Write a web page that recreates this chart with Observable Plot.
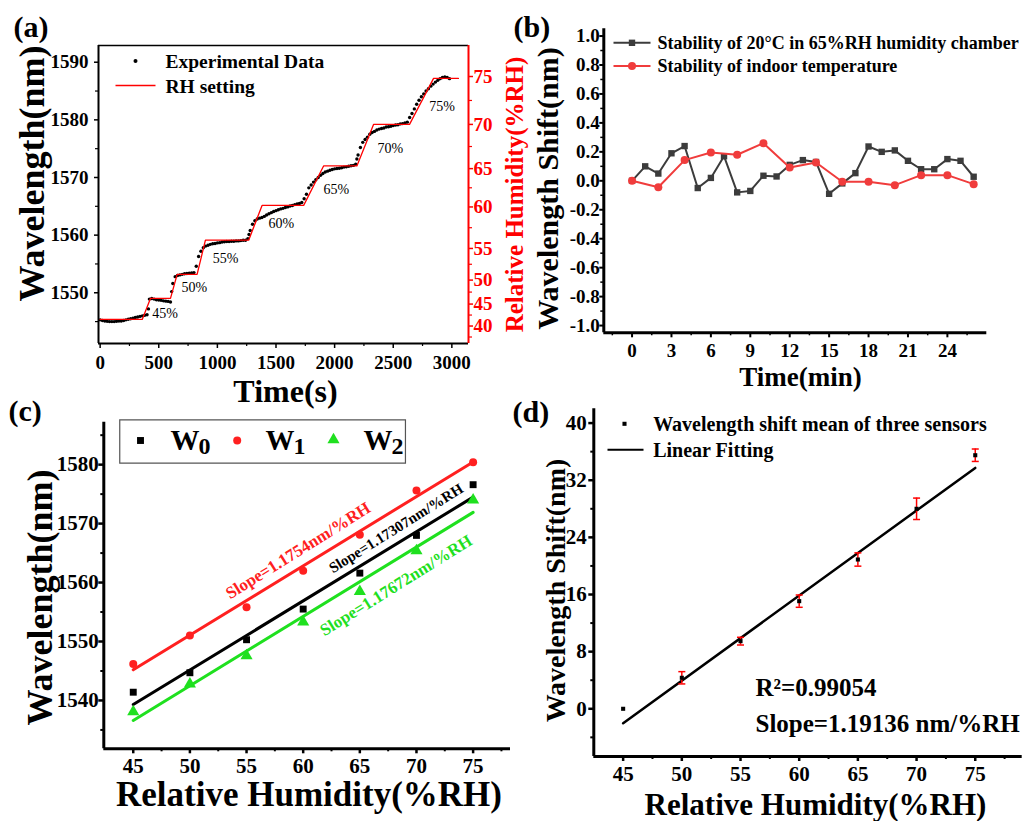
<!DOCTYPE html>
<html><head><meta charset="utf-8">
<script src="https://cdn.jsdelivr.net/npm/d3@7"></script>
<script src="https://cdn.jsdelivr.net/npm/@observablehq/plot@0.6"></script>
<style>
body{margin:0;background:#fff;}
#fig{position:relative;width:1034px;height:821px;overflow:hidden;background:#fff;}
</style></head><body><div id="fig"></div>
<script>
// ---------------- Panel (a) data ----------------
const timeS = [0,20,40,60,80,100,120,140,160,180,200,220,240,260,280,300,320,340,360,380,400,412,420,440,460,480,500,520,540,560,580,600,610,620,640,660,680,700,720,740,760,780,800,820,840,860,880,900,920,940,960,980,1000,1020,1040,1060,1080,1100,1120,1140,1160,1180,1200,1220,1240,1260,1270,1280,1300,1320,1340,1360,1380,1400,1420,1440,1460,1480,1500,1520,1540,1560,1580,1600,1620,1640,1660,1680,1700,1720,1740,1760,1780,1800,1820,1840,1860,1880,1900,1920,1940,1960,1980,2000,2020,2040,2060,2080,2100,2120,2140,2160,2180,2190,2200,2220,2240,2260,2280,2300,2320,2340,2360,2380,2400,2420,2440,2460,2480,2500,2520,2540,2560,2580,2600,2620,2640,2660,2680,2700,2720,2740,2760,2780,2800,2820,2840,2860,2880,2900,2920,2940,2960,2980];
const wavelengthNm = [1545.3,1545.2,1545.1,1545.05,1545.0,1545.0,1545.0,1545.05,1545.1,1545.1,1545.2,1545.3,1545.4,1545.5,1545.6,1545.7,1545.8,1545.9,1546.0,1546.1,1546.2,1547.2,1548.9,1549.0,1548.9,1548.8,1548.75,1548.7,1548.6,1548.55,1548.5,1548.4,1550.2,1551.6,1552.8,1553.0,1553.1,1553.2,1553.3,1553.35,1553.4,1553.45,1553.5,1554.6,1556.3,1557.2,1557.8,1558.1,1558.25,1558.4,1558.5,1558.55,1558.65,1558.7,1558.8,1558.85,1558.9,1558.9,1558.95,1558.95,1559.0,1559.0,1559.05,1559.1,1559.1,1559.4,1560.1,1560.8,1561.9,1562.5,1562.8,1562.95,1563.05,1563.25,1563.5,1563.7,1563.9,1564.1,1564.25,1564.4,1564.55,1564.65,1564.8,1564.9,1565.05,1565.15,1565.3,1565.4,1565.5,1565.65,1566.3,1567.1,1568.2,1568.7,1569.2,1569.6,1570.0,1570.4,1570.7,1570.95,1571.1,1571.25,1571.4,1571.5,1571.55,1571.6,1571.7,1571.8,1571.85,1571.95,1572.05,1572.1,1572.3,1573.2,1573.9,1575.2,1576.1,1576.6,1577.0,1577.5,1577.8,1578.0,1578.25,1578.4,1578.5,1578.6,1578.75,1578.8,1578.9,1579.0,1579.1,1579.15,1579.3,1579.35,1579.45,1579.6,1580.4,1581.1,1581.9,1582.7,1583.4,1584.0,1584.5,1585.0,1585.4,1585.85,1586.2,1586.55,1586.85,1587.15,1587.35,1587.45,1587.35,1587.15];
const rhTime = [0,359,430,600,657,827,898,1267,1381,1736,1906,2190,2332,2639,2844,3056];
const rhSetting = [41.5,41.5,46.2,46.2,50.9,50.9,56.0,56.0,60.2,60.2,65.3,65.3,70.0,70.0,74.8,74.8];
// right-hand RH axis calibration (RH value -> wavelength level on the left axis)
const rhAxisTicks = [40,45,50,55,60,65,70,75];
const rhAxisWl = [1544.23,1548.04,1552.20,1557.69,1564.89,1571.54,1579.21,1587.52];
const rhAxisMinor = [37.5,42.5,47.5,52.5,57.5,62.5,67.5,72.5];
const stepLabels = ["45%","50%","55%","60%","65%","70%","75%"];
const stepLabelT = [444,694,960,1437,1906,2366,2807];
const stepLabelWl = [1546.4,1550.9,1555.95,1562.1,1567.9,1575.0,1582.3];
const aXTicks = [0,500,1000,1500,2000,2500,3000];
const aXMinor = [250,750,1250,1750,2250,2750];
const aYTicks = [1550,1560,1570,1580,1590];
const aYMinor = [1545,1555,1565,1575,1585];

// ---------------- Panel (b) data ----------------
const chamberTime = [0,1,2,3,4,5,6,7,8,9,10,11,12,13,14,15,16,17,18,19,20,21,22,23,24,25,26];
const chamberShift = [0.0,0.10,0.05,0.19,0.24,-0.05,0.02,0.17,-0.08,-0.07,0.035,0.03,0.11,0.143,0.13,-0.09,-0.018,0.053,0.237,0.20,0.21,0.138,0.08,0.08,0.15,0.138,0.028];
const indoorTime = [0,2,4,6,8,10,12,14,16,18,20,22,24,26];
const indoorShift = [0.0,-0.045,0.143,0.195,0.18,0.26,0.092,0.126,-0.007,-0.007,-0.03,0.039,0.039,-0.023];
const bXTicks = [0,3,6,9,12,15,18,21,24];
const bXMinor = [-1.5,1.5,4.5,7.5,10.5,13.5,16.5,19.5,22.5,25.5];
const bYTicks = [-1.0,-0.8,-0.6,-0.4,-0.2,0.0,0.2,0.4,0.6,0.8,1.0];
const bYTickLabels = ["-1.0","-0.8","-0.6","-0.4","-0.2","0.0","0.2","0.4","0.6","0.8","1.0"];
const bYMinor = [-0.9,-0.7,-0.5,-0.3,-0.1,0.1,0.3,0.5,0.7,0.9];

// ---------------- Panel (c) data ----------------
const rhLevels = [45,50,55,60,65,70,75];
const w0 = [1541.4,1544.7,1550.3,1555.5,1561.6,1568.0,1576.6];
const w1 = [1546.2,1551.0,1555.8,1562.0,1568.1,1575.6,1580.4];
const w2 = [1538.1,1542.8,1547.6,1553.3,1558.5,1565.4,1574.0];
const fitSlope = [1.17307,1.1754,1.17672];      // W0, W1, W2
const fitAt45 = [1539.3,1545.2,1536.6];
const slopeText = ["Slope=1.17307nm/%RH","Slope=1.1754nm/%RH","Slope=1.17672nm/%RH"];
const slopeTextX = [68.2,59.55,68.2];
const slopeTextY = [1569.2,1565.4,1559.5];
const cXTicks = [45,50,55,60,65,70,75];
const cXMinor = [47.5,52.5,57.5,62.5,67.5,72.5,77.5];
const cYTicks = [1540,1550,1560,1570,1580];
const cYMinor = [1535,1545,1555,1565,1575,1585];

// ---------------- Panel (d) data ----------------
const dRH = [45,50,55,60,65,70,75];
const meanShift = [0,4.34,9.47,15.07,20.9,28.0,35.5];
const shiftErr = [0,0.86,0.54,0.86,0.93,1.5,0.87];
const dFitSlope = 1.19136, dFitAt45 = -2.02;
const dXTicks = [45,50,55,60,65,70,75];
const dXMinor = [47.5,52.5,57.5,62.5,67.5,72.5,77.5];
const dYTicks = [0,8,16,24,32,40];
const dYMinor = [-4,4,12,20,28,36];

// ---------------- helpers ----------------
const SERIF = "Liberation Serif";
const fig = document.getElementById("fig");
function mount(svg, left, top) {
  svg.style.position = "absolute"; svg.style.left = left + "px"; svg.style.top = top + "px";
  svg.style.background = "transparent"; svg.style.overflow = "visible"; svg.style.maxWidth = "none";
  svg.style.fontFamily = "'Liberation Serif', 'Times New Roman', serif"; svg.style.fontWeight = "bold";
  fig.appendChild(svg);
}
const hline = (w) => ({draw(ctx) { ctx.moveTo(-w / 2, 0); ctx.lineTo(w / 2, 0); }});
const rectSym = (w, h) => ({draw(ctx) { ctx.rect(-w / 2, -h / 2, w, h); }});
function note(text, dx, dy, o = {}) {
  return Plot.text([text], {text: d => d, frameAnchor: "top-left", dx, dy, textAnchor: "middle", lineAnchor: "middle", fontFamily: SERIF, fontWeight: "bold", ...o});
}
function glyph(dx, dy, o) {
  return Plot.dot([0], {frameAnchor: "top-left", dx, dy, r: 1, ...o});
}
const txt = {fontFamily: SERIF, fontWeight: "bold", label: null};

// ---------------- Panel (a) ----------------
const rhToWl = d3.scaleLinear().domain(rhAxisTicks).range(rhAxisWl);
const expData = timeS.map((t, i) => ({t, w: wavelengthNm[i]}));
const rhData = rhTime.map((t, i) => ({t, rh: rhSetting[i]}));
const stepData = stepLabels.map((label, i) => ({label, t: stepLabelT[i], w: stepLabelWl[i]}));
const aXd = [-14, 3142], aYd = [1541.2, 1592.9];
const A = Plot.plot({
  width: 520, height: 400, marginLeft: 98, marginRight: 52, marginTop: 45, marginBottom: 57,
  x: {domain: aXd}, y: {domain: aYd},
  marks: [
    Plot.axisX({ticks: aXTicks, tickSize: 5, tickPadding: 7, strokeWidth: 1.5, fontSize: 19, tickFormat: d => String(d), ...txt}),
    Plot.axisX({ticks: aXMinor, tickSize: 3, strokeWidth: 1.2, fill: "none", label: null}),
    Plot.axisY({ticks: aYTicks, tickSize: 4, tickPadding: 6, strokeWidth: 1.5, fontSize: 19, tickFormat: d => String(d), ...txt}),
    Plot.axisY({ticks: aYMinor, tickSize: 3, strokeWidth: 1.2, fill: "none", label: null}),
    Plot.axisY({anchor: "right", ticks: rhAxisTicks.map(rhToWl), tickSize: 4, tickPadding: 1, stroke: "red", fill: "red", strokeWidth: 1.5, fontSize: 19, tickFormat: d => String(Math.round(rhToWl.invert(d))), ...txt}),
    Plot.axisY({anchor: "right", ticks: rhAxisMinor.map(rhToWl), tickSize: 3, stroke: "red", strokeWidth: 1.2, fill: "none", label: null}),
    Plot.ruleY([aYd[1]], {stroke: "black", strokeWidth: 1.5}),
    Plot.ruleY([aYd[0]], {stroke: "black", strokeWidth: 2}),
    Plot.ruleX([aXd[0]], {stroke: "black", strokeWidth: 2}),
    Plot.ruleX([aXd[1]], {stroke: "red", strokeWidth: 2}),
    Plot.dot(expData, {x: "t", y: "w", r: 1.7, fill: "black"}),
    Plot.line(rhData, {x: "t", y: d => rhToWl(d.rh), stroke: "red", strokeWidth: 1.3}),
    Plot.text(stepData, {x: "t", y: "w", text: "label", textAnchor: "start", fontSize: 14, fontFamily: SERIF, fontWeight: "normal"}),
    glyph(37, 15.5, {r: 2, fill: "black"}),
    note("Experimental Data", 67, 16.5, {textAnchor: "start", fontSize: 19.5}),
    glyph(37, 40, {symbol: hline(40), stroke: "red", strokeWidth: 1.5, fill: "none"}),
    note("RH setting", 67, 41, {textAnchor: "start", fontSize: 19.5}),
    note("Wavelength(nm)", -66.3, 128, {rotate: -90, fontSize: 36}),
    note("Relative Humidity(%RH)", 416, 149, {rotate: -90, fontSize: 25, fill: "red"}),
    note("Time(s)", 187, 346.5, {fontSize: 32}),
    note("(a)", -85, -18, {textAnchor: "start", fontSize: 30})
  ]
});
mount(A, 0, 0);

// ---------------- Panel (b) ----------------
const chamber = chamberTime.map((t, i) => ({t, v: chamberShift[i]}));
const indoor = indoorTime.map((t, i) => ({t, v: indoorShift[i]}));
const bXd = [-2.15, 27], bYd = [-1.05, 1.05];
const bBlack = "#3c3c3c", bRed = "#f03c3c";
const B = Plot.plot({
  width: 534, height: 400, marginLeft: 103.3, marginRight: 47.7, marginTop: 28.3, marginBottom: 67.7,
  x: {domain: bXd}, y: {domain: bYd},
  marks: [
    Plot.axisX({ticks: bXTicks, tickSize: 5, tickPadding: 5.5, strokeWidth: 2, fontSize: 19, tickFormat: d => String(d), ...txt}),
    Plot.axisX({ticks: bXMinor, tickSize: 3, strokeWidth: 1.5, fill: "none", label: null}),
    Plot.axisY({ticks: bYTicks, tickSize: 4, tickPadding: 0, strokeWidth: 2, fontSize: 19, tickFormat: d => bYTickLabels[bYTicks.indexOf(d)], ...txt}),
    Plot.axisY({ticks: bYMinor, tickSize: 3, strokeWidth: 1.5, fill: "none", label: null}),
    Plot.ruleX([bXd[0]], {stroke: "black", strokeWidth: 3}),
    Plot.ruleY([bYd[0]], {stroke: "black", strokeWidth: 3}),
    Plot.line(chamber, {x: "t", y: "v", stroke: bBlack, strokeWidth: 2}),
    Plot.dot(chamber, {x: "t", y: "v", symbol: "square", r: 3.6, fill: bBlack}),
    Plot.line(indoor, {x: "t", y: "v", stroke: bRed, strokeWidth: 2}),
    Plot.dot(indoor, {x: "t", y: "v", symbol: "circle", r: 4, fill: bRed}),
    glyph(28.2, 14, {symbol: hline(37), stroke: bBlack, strokeWidth: 2, fill: "none"}),
    glyph(28.2, 14, {symbol: "square", r: 3.6, fill: bBlack}),
    note("Stability of 20°C in 65%RH humidity chamber", 53.7, 14.5, {textAnchor: "start", fontSize: 18}),
    glyph(28.2, 37.2, {symbol: hline(37), stroke: bRed, strokeWidth: 2, fill: "none"}),
    glyph(28.2, 37.2, {symbol: "circle", r: 4, fill: bRed}),
    note("Stability of indoor temperature", 53.7, 37.5, {textAnchor: "start", fontSize: 18}),
    note("Wavelength Shift(nm)", -55.3, 159.7, {rotate: -90, fontSize: 30}),
    note("Time(min)", 196.7, 349, {fontSize: 27}),
    note("(b)", -90.3, -1.3, {textAnchor: "start", fontSize: 30})
  ]
});
mount(B, 500, 0);

// ---------------- Panel (c) ----------------
const cRed = "#ff2020", cGreen = "#1fe01f";
const fitLine = (k) => [45, 75].map(x => ({x, y: fitAt45[k] + fitSlope[k] * (x - 45)}));
const pts = (arr) => rhLevels.map((x, i) => ({x, y: arr[i]}));
const cXd = [42.4, 78.3], cYd = [1531.8, 1587.2];
const slopeColors = ["black", cRed, cGreen], slopeSizes = [15, 17, 17];
const C = Plot.plot({
  width: 520, height: 431, marginLeft: 103.3, marginRight: 10, marginTop: 31.7, marginBottom: 72.7,
  x: {domain: cXd}, y: {domain: cYd},
  marks: [
    Plot.axisX({ticks: cXTicks, tickSize: 5, tickPadding: 4, strokeWidth: 2.5, fontSize: 21, tickFormat: d => String(d), ...txt}),
    Plot.axisX({ticks: cXMinor, tickSize: 3, strokeWidth: 2, fill: "none", label: null}),
    Plot.axisY({ticks: cYTicks, tickSize: 5, tickPadding: 0, strokeWidth: 2.5, fontSize: 21, tickFormat: d => String(d), ...txt}),
    Plot.axisY({ticks: cYMinor, tickSize: 3, strokeWidth: 2, fill: "none", label: null}),
    Plot.ruleX([cXd[0]], {stroke: "black", strokeWidth: 3}),
    Plot.ruleY([cYd[0]], {stroke: "black", strokeWidth: 3}),
    Plot.line(fitLine(1), {x: "x", y: "y", stroke: cRed, strokeWidth: 3}),
    Plot.line(fitLine(0), {x: "x", y: "y", stroke: "black", strokeWidth: 3}),
    Plot.line(fitLine(2), {x: "x", y: "y", stroke: cGreen, strokeWidth: 3}),
    Plot.dot(pts(w0), {x: "x", y: "y", symbol: "square", r: 3.9, fill: "black"}),
    Plot.dot(pts(w1), {x: "x", y: "y", symbol: "circle", r: 4, fill: cRed}),
    Plot.dot(pts(w2), {x: "x", y: "y", symbol: "triangle", r: 4.5, fill: cGreen}),
    ...slopeText.map((s, k) => Plot.text([{x: slopeTextX[k], y: slopeTextY[k]}], {x: "x", y: "y", text: () => s, rotate: -32, fill: slopeColors[k], fontSize: slopeSizes[k], fontFamily: SERIF, fontWeight: "bold"})),
    glyph(158.8, 19.3, {symbol: rectSym(285.7, 43.4), stroke: "#555", strokeWidth: 1.2, fill: "none"}),
    glyph(36.7, 18.3, {symbol: "square", r: 3.9, fill: "black"}),
    note("W", 66.7, 18.3, {textAnchor: "start", fontSize: 29}),
    note("0", 94.7, 23.9, {textAnchor: "start", fontSize: 24}),
    glyph(133.4, 18.3, {symbol: "circle", r: 4, fill: cRed}),
    note("W", 161.7, 18.3, {textAnchor: "start", fontSize: 29}),
    note("1", 189.7, 23.9, {textAnchor: "start", fontSize: 24}),
    glyph(229.7, 17.5, {symbol: "triangle", r: 4.5, fill: cGreen}),
    note("W", 259.7, 18.3, {textAnchor: "start", fontSize: 29}),
    note("2", 287.7, 23.9, {textAnchor: "start", fontSize: 24}),
    note("Wavelength(nm)", -63.3, 175.3, {rotate: -90, fontSize: 36}),
    note("Relative Humidity(%RH)", 205.2, 373, {fontSize: 35}),
    note("(c)", -95.3, -11.2, {textAnchor: "start", fontSize: 30})
  ]
});
mount(C, 0, 390);

// ---------------- Panel (d) ----------------
const dData = dRH.map((x, i) => ({x, m: meanShift[i], e: shiftErr[i]}));
const dErr = dData.filter(d => d.e > 0);
const dFit = [45, 75].map(x => ({x, y: dFitAt45 + dFitSlope * (x - 45)}));
const dXd = [42.5, 79.0], dYd = [-6.68, 42.0];
const D = Plot.plot({
  width: 534, height: 431, marginLeft: 93.3, marginRight: 12.3, marginTop: 18.3, marginBottom: 65,
  x: {domain: dXd}, y: {domain: dYd},
  marks: [
    Plot.axisX({ticks: dXTicks, tickSize: 5, tickPadding: 5, strokeWidth: 2.5, fontSize: 21, tickFormat: d => String(d), ...txt}),
    Plot.axisX({ticks: dXMinor, tickSize: 3, strokeWidth: 2, fill: "none", label: null}),
    Plot.axisY({ticks: dYTicks, tickSize: 5, tickPadding: 2, strokeWidth: 2.5, fontSize: 21, tickFormat: d => String(d), ...txt}),
    Plot.axisY({ticks: dYMinor, tickSize: 3, strokeWidth: 2, fill: "none", label: null}),
    Plot.ruleX([dXd[0]], {stroke: "black", strokeWidth: 3}),
    Plot.ruleY([dYd[0]], {stroke: "black", strokeWidth: 3}),
    Plot.line(dFit, {x: "x", y: "y", stroke: "black", strokeWidth: 2.5}),
    Plot.ruleX(dErr, {x: "x", y1: d => d.m - d.e, y2: d => d.m + d.e, stroke: "red", strokeWidth: 1.5}),
    Plot.dot(dErr, {x: "x", y: d => d.m + d.e, symbol: hline(7), r: 1, stroke: "red", strokeWidth: 1.5, fill: "none"}),
    Plot.dot(dErr, {x: "x", y: d => d.m - d.e, symbol: hline(7), r: 1, stroke: "red", strokeWidth: 1.5, fill: "none"}),
    Plot.dot(dData, {x: "x", y: "m", symbol: "square", r: 2.3, fill: "black"}),
    glyph(30.7, 15, {symbol: "square", r: 2.3, fill: "black"}),
    note("Wavelength shift mean of three sensors", 59.4, 15.5, {textAnchor: "start", fontSize: 20}),
    glyph(31.7, 41, {symbol: hline(36), stroke: "black", strokeWidth: 2, fill: "none"}),
    note("Linear Fitting", 59.4, 41.5, {textAnchor: "start", fontSize: 20}),
    note("R²=0.99054", 161.7, 278.7, {textAnchor: "start", fontSize: 25}),
    note("Slope=1.19136 nm/%RH", 161.7, 315.4, {textAnchor: "start", fontSize: 25}),
    note("Wavelength Shift(nm)", -38, 181.7, {rotate: -90, fontSize: 28}),
    note("Relative Humidity(%RH)", 221.7, 396, {fontSize: 31}),
    note("(d)", -81.3, 3.2, {textAnchor: "start", fontSize: 30})
  ]
});
mount(D, 500, 390);
</script></body></html>
